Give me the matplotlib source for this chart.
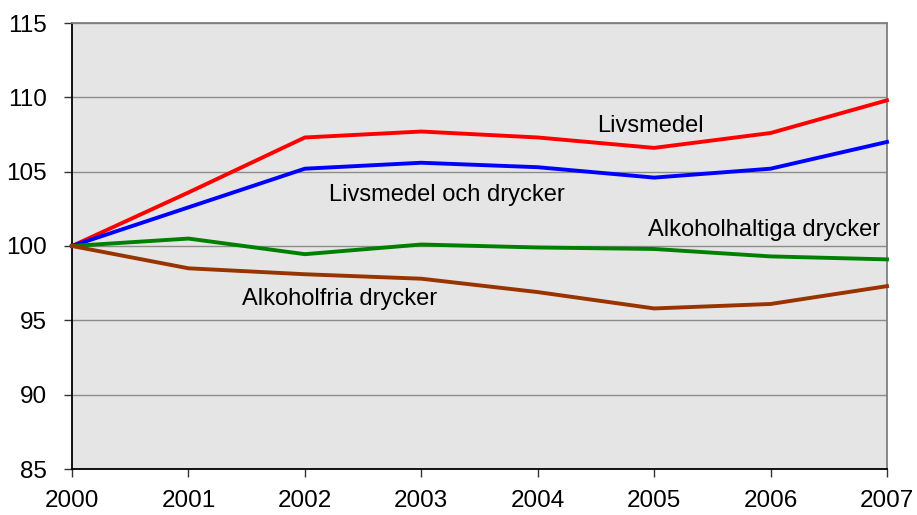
import matplotlib
matplotlib.use("Agg")
import matplotlib.pyplot as plt

years = [2000, 2001, 2002, 2003, 2004, 2005, 2006, 2007]
livsmedel = [100.0, 103.6, 107.3, 107.7, 107.3, 106.6, 107.6, 109.8]
livsmedel_drycker = [100.0, 102.6, 105.2, 105.6, 105.3, 104.6, 105.2, 107.0]
alkoholhaltiga = [100.0, 100.5, 99.45, 100.1, 99.9, 99.8, 99.3, 99.1]
alkoholfria = [100.0, 98.5, 98.1, 97.8, 96.9, 95.8, 96.1, 97.3]
yticks = [85, 90, 95, 100, 105, 110, 115]

plt.rcParams['font.family'] = ['Liberation Sans', 'DejaVu Sans']

fig = plt.figure(figsize=(9.17, 5.15), dpi=100)
ax = fig.add_axes([72/917, 1 - 469/515, (887-72)/917, (469-23)/515])
ax.set_facecolor('#E5E5E5')

lw = 2.8
ax.plot(years, livsmedel, color='#FF0000', lw=lw, clip_on=False, zorder=3)
ax.plot(years, livsmedel_drycker, color='#0000FF', lw=lw, clip_on=False, zorder=3)
ax.plot(years, alkoholhaltiga, color='#008000', lw=lw, clip_on=False, zorder=3)
ax.plot(years, alkoholfria, color='#993300', lw=lw, clip_on=False, zorder=3)

ax.set_xlim(2000, 2007)
ax.set_ylim(85, 115)
ax.set_xticks(years)
ax.set_xticklabels([str(y) for y in years])
ax.set_yticks(yticks)
ax.set_yticklabels([str(y) for y in yticks])
ax.yaxis.grid(True, color='#8C8C8C', lw=1.0)
ax.set_axisbelow(True)

for s in ['left', 'bottom']:
    ax.spines[s].set_color('black')
    ax.spines[s].set_linewidth(1.3)
for s in ['top', 'right']:
    ax.spines[s].set_color('#7F7F7F')
    ax.spines[s].set_linewidth(1.3)

ax.tick_params(axis='both', direction='out', length=6, width=1.0, color='#333333',
               labelsize=17.5)
ax.tick_params(axis='y', pad=12)
ax.tick_params(axis='x', pad=9)

fs = 17
ax.text(2004.97, 107.67, 'Livsmedel', ha='center', va='baseline', fontsize=fs)
ax.text(2003.217, 103.02, 'Livsmedel och drycker', ha='center', va='baseline', fontsize=fs)
ax.text(2005.94, 100.67, 'Alkoholhaltiga drycker', ha='center', va='baseline', fontsize=fs)
ax.text(2002.30, 96.0, 'Alkoholfria drycker', ha='center', va='baseline', fontsize=fs)

fig.savefig('out.png', dpi=100, facecolor='white')
